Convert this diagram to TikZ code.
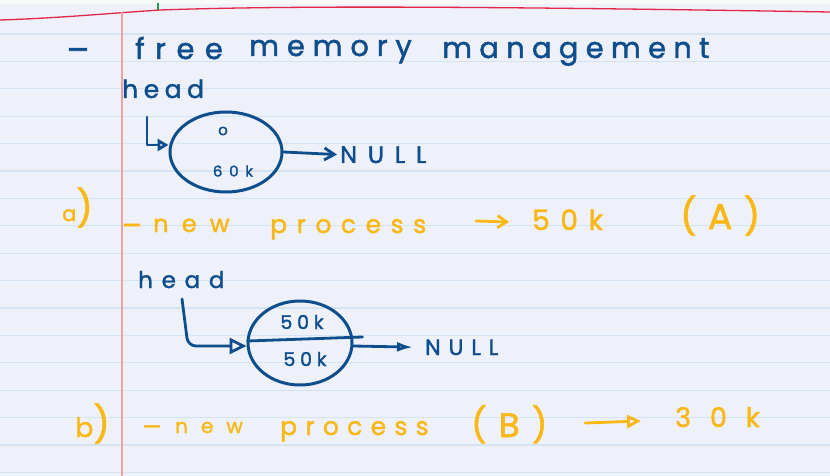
\documentclass[tikz,border=0pt]{standalone}
\usepackage{fontspec}
\newfontfamily\hand{Poppins}
\usetikzlibrary{shapes.geometric,arrows.meta,calc}
\definecolor{ink}{RGB}{14,78,140}
\definecolor{gold}{RGB}{250,184,22}
\definecolor{paper}{RGB}{238,240,250}
\definecolor{rulecol}{RGB}{212,228,245}
\definecolor{margincol}{RGB}{244,160,160}
\definecolor{topred}{RGB}{226,40,70}
\definecolor{tickcol}{RGB}{40,150,70}
\newcommand\hw[2]{\fontsize{#1}{#1}\hand\addfontfeatures{LetterSpace=#2,FakeBold=1.6}}
\tikzset{
  bt/.style={text=ink, inner sep=0pt},
  ot/.style={text=gold, inner sep=0pt},
  inkline/.style={draw=ink, line width=2.8pt, line cap=round, line join=round},
  goldline/.style={draw=gold, line width=2.8pt, line cap=round, line join=round},
  blob/.style={draw=ink, line width=3pt, ellipse, inner sep=0pt},
}
\begin{document}
\begin{tikzpicture}[x=1pt,y=-1pt]
\useasboundingbox (0,0) rectangle (830,476);
% paper
\fill[paper] (0,0) rectangle (830,476);
\fill[white!95!gray] (0,0) rectangle (830,4);
\foreach \k in {0,...,16} \draw[rulecol, line width=1.2pt] (0,{34+27.4*\k}) -- (830,{34+27.4*\k});
\draw[topred, line width=1.3pt] (0,20) .. controls (60,18) and (100,14) .. (160,10) .. controls (300,5) and (520,7) .. (830,12);
\draw[margincol, line width=1.5pt] (122,12) -- (122,476);
\draw[tickcol, line width=2pt] (158,3) -- (158,10);

% title line
\node[bt, font={\hw{34}{0}}] (dash0) at (78,55) {–};
\node[bt, font={\hw{29}{36}}, anchor=base west] (w1) at (135,59) {free};
\node[bt, font={\hw{29}{27}}, anchor=base west] (w2) at (249,56) {memory};
\node[bt, font={\hw{29}{25}}, anchor=base west] (w3) at (442,58) {management};

% first list
\node[bt, font={\hw{25}{22}}, anchor=base west] (head1) at (122,98) {head};
\node[blob, minimum width=112pt, minimum height=80pt] (e1) at (226,152) {};
\node[bt, font={\hw{15}{0}}] (o1) at (223,131) {o};
\node[bt, font={\hw{15}{45}}] (k1) at (233,171) {60k};
\node[bt, font={\hw{24}{45}}, anchor=base west] (N1) at (340,163) {NULL};
\coordinate (h1a) at (147,117);
\draw[inkline, -{Triangle[open,length=11pt,width=12pt]}] (h1a) |- ([yshift=7pt]e1.west);
\draw[inkline, shorten >=3pt, -{Straight Barb[length=10pt,width=12pt]}] (e1.east) -- (N1.west);

% a)
\node[ot, anchor=base west] (la) at (62,221) {{\hw{21}{0}a}{\hw{36}{0})}};
\node[ot, font={\hw{30}{0}}] (dasha) at (132,230) {–};
\node[ot, font={\hw{24}{55}}, anchor=base west] (na) at (153,232) {new};
\node[ot, font={\hw{25}{38}}, anchor=base west] (pa) at (270,233) {process};
\coordinate (aa1) at (476,221);
\coordinate (aa2) at (509,222);
\draw[goldline, -{Straight Barb[length=9pt,width=12pt]}] (aa1) -- (aa2);
\node[ot, font={\hw{28}{38}}, anchor=base west] (sa) at (532,230) {50k};
\node[ot, font={\hw{36}{32}}, anchor=base west] (A) at (680,229) {(A)};

% second list
\node[bt, font={\hw{23}{38}}, anchor=base west] (head2) at (138,288) {head};
\node[blob, minimum width=104pt, minimum height=84pt] (e2) at (300,343) {};
\draw[inkline] ($(e2.west)+(1,-2)$) -- ($(e2.east)+(9,-6)$);
\node[bt, font={\hw{19}{25}}] (u2) at (302,322) {50k};
\node[bt, font={\hw{19}{25}}] (l2) at (305,359) {50k};
\node[bt, font={\hw{22}{36}}, anchor=base west] (N2) at (425,355) {NULL};
\coordinate (h2a) at (182,299);
\draw[inkline, rounded corners=8pt, -{Triangle[open,length=17pt,width=16pt]}] (h2a) -- ($(h2a |- e2.west)+(6,3)$) -- ($(e2.west)+(0,3)$);
\draw[inkline, shorten >=12pt, -{Latex[open,length=16pt,width=10pt]}] ($(e2.east)+(0,3)$) -- (N2.west);

% b)
\node[ot, anchor=base west] (lb) at (75,437) {{\hw{27}{0}b}{\hw{36}{0})}};
\node[ot, font={\hw{28}{0}}] (dashb) at (152,431) {–};
\node[ot, font={\hw{20}{65}}, anchor=base west] (nb) at (175,433) {new};
\node[ot, font={\hw{25}{33}}, anchor=base west] (pb) at (280,435) {process};
\node[ot, font={\hw{34}{36}}, anchor=base west] (B) at (471,437) {(B)};
\coordinate (bb1) at (585,423);
\coordinate (bb2) at (641,421);
\draw[goldline, -{Triangle[open,length=14pt,width=13pt]}] (bb1) -- (bb2);
\node[ot, font={\hw{27}{70}}, anchor=base west] (sb) at (675,427) {30k};
\end{tikzpicture}
\end{document}
